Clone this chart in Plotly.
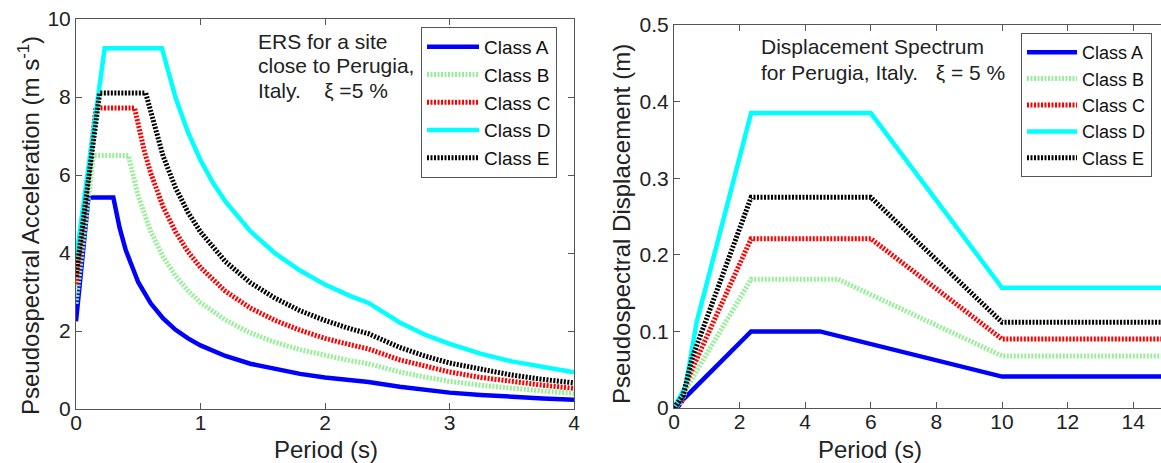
import plotly.graph_objects as go

W, H = 1161, 463

# ---------------- Data: acceleration spectra (left) ----------------
classes = ["Class A", "Class B", "Class C", "Class D", "Class E"]

acc_T_A = [0, 0.10, 0.30, 0.35, 0.4, 0.5, 0.6, 0.7, 0.8, 0.9, 1.0, 1.2, 1.4, 1.6, 1.8, 2.0, 2.2, 2.35, 2.6, 2.8, 3.0, 3.25, 3.5, 3.75, 4.0]
acc_A = [2.25, 5.42, 5.42, 4.65, 4.07, 3.25, 2.71, 2.32, 2.03, 1.81, 1.63, 1.36, 1.16, 1.02, 0.90, 0.81, 0.74, 0.69, 0.57, 0.49, 0.42, 0.36, 0.31, 0.27, 0.24]

acc_T_B = [0, 0.14, 0.42, 0.5, 0.6, 0.7, 0.8, 0.9, 1.0, 1.2, 1.4, 1.6, 1.8, 2.0, 2.2, 2.35, 2.6, 2.8, 3.0, 3.25, 3.5, 3.75, 4.0]
acc_B = [2.7, 6.5, 6.5, 5.46, 4.55, 3.90, 3.41, 3.03, 2.73, 2.28, 1.95, 1.71, 1.52, 1.37, 1.24, 1.16, 0.95, 0.82, 0.71, 0.61, 0.52, 0.46, 0.40]

acc_T_C = [0, 0.16, 0.47, 0.55, 0.6, 0.7, 0.8, 0.9, 1.0, 1.2, 1.4, 1.6, 1.8, 2.0, 2.2, 2.35, 2.6, 2.8, 3.0, 3.25, 3.5, 3.75, 4.0]
acc_C = [3.2, 7.72, 7.72, 6.60, 6.05, 5.18, 4.54, 4.03, 3.63, 3.02, 2.59, 2.27, 2.02, 1.81, 1.65, 1.54, 1.26, 1.09, 0.95, 0.81, 0.70, 0.61, 0.53]

acc_T_D = [0, 0.23, 0.69, 0.8, 0.9, 1.0, 1.1, 1.2, 1.4, 1.6, 1.8, 2.0, 2.2, 2.35, 2.6, 2.8, 3.0, 3.25, 3.5, 3.75, 4.0]
acc_D = [3.85, 9.25, 9.25, 7.98, 7.09, 6.38, 5.80, 5.32, 4.56, 3.99, 3.55, 3.19, 2.90, 2.72, 2.22, 1.91, 1.67, 1.42, 1.22, 1.07, 0.94]

acc_T_E = [0, 0.19, 0.56, 0.65, 0.7, 0.8, 0.9, 1.0, 1.2, 1.4, 1.6, 1.8, 2.0, 2.2, 2.35, 2.6, 2.8, 3.0, 3.25, 3.5, 3.75, 4.0]
acc_E = [3.4, 8.1, 8.1, 6.98, 6.48, 5.67, 5.04, 4.54, 3.78, 3.24, 2.84, 2.52, 2.27, 2.06, 1.93, 1.58, 1.36, 1.18, 1.01, 0.87, 0.76, 0.67]

# ---------------- Data: displacement spectra (right) ----------------
dis_T_A = [0, 0.15, 0.30, 2.35, 4.45, 10.0, 15.0]
dis_A = [0, 0.003, 0.012, 0.100, 0.100, 0.041, 0.041]

dis_T_B = [0, 0.21, 0.42, 2.35, 5.0, 10.0, 15.0]
dis_B = [0, 0.007, 0.029, 0.168, 0.168, 0.068, 0.068]

dis_T_C = [0, 0.24, 0.47, 2.35, 6.0, 10.0, 15.0]
dis_C = [0, 0.011, 0.043, 0.221, 0.221, 0.090, 0.090]

dis_T_D = [0, 0.35, 0.69, 2.35, 6.0, 10.0, 15.0]
dis_D = [0, 0.028, 0.112, 0.385, 0.385, 0.157, 0.157]

dis_T_E = [0, 0.28, 0.56, 2.35, 6.0, 10.0, 15.0]
dis_E = [0, 0.017, 0.066, 0.275, 0.275, 0.112, 0.112]

# ---------------- Styles ----------------
colors = ["#0000ff", "#99ee99", "#ff0000", "#00ffff", "#000000"]
dashes = ["solid", "2px,1.5px", "2px,1.5px", "solid", "2px,1.5px"]
widths = [4.5, 5, 5, 4.5, 5]

FONT = "Liberation Sans, Arial, sans-serif"

acc_T = [acc_T_A, acc_T_B, acc_T_C, acc_T_D, acc_T_E]
acc_V = [acc_A, acc_B, acc_C, acc_D, acc_E]
dis_T = [dis_T_A, dis_T_B, dis_T_C, dis_T_D, dis_T_E]
dis_V = [dis_A, dis_B, dis_C, dis_D, dis_E]

fig = go.Figure()
for i, name in enumerate(classes):
    fig.add_trace(go.Scatter(x=acc_T[i], y=acc_V[i], mode="lines", name=name,
                             line=dict(color=colors[i], width=widths[i], dash=dashes[i]),
                             xaxis="x", yaxis="y", legend="legend"))
for i, name in enumerate(classes):
    fig.add_trace(go.Scatter(x=dis_T[i], y=dis_V[i], mode="lines", name=name,
                             line=dict(color=colors[i], width=widths[i], dash=dashes[i]),
                             xaxis="x2", yaxis="y2", legend="legend2"))

def px_x(p):
    return p / W

def px_y(p):
    return 1 - p / H

axis_common = dict(showline=True, linecolor="#555", linewidth=1, ticks="inside",
                   ticklen=6, tickcolor="#555", showgrid=False, zeroline=False,
                   automargin=False,
                   tickfont=dict(family=FONT, size=21, color="#222"))

fig.update_layout(
    width=W, height=H, margin=dict(l=0, r=0, t=0, b=0, autoexpand=False),
    paper_bgcolor="white", plot_bgcolor="white",
    font=dict(family=FONT, color="#222"),
    xaxis=dict(domain=[px_x(76), px_x(574)], range=[0, 4], dtick=1, mirror="ticks",
               anchor="y", ticklabelstandoff=-5, **axis_common),
    yaxis=dict(domain=[px_y(409), px_y(19)], range=[0, 10], dtick=2, mirror="ticks",
               anchor="x", **axis_common),
    xaxis2=dict(domain=[px_x(674), 1.0], range=[0, (W - 674) / 32.8], dtick=2, mirror="ticks",
                anchor="y2", ticklabelstandoff=-5, **axis_common),
    yaxis2=dict(domain=[px_y(408), px_y(25)], range=[0, 0.5], dtick=0.1, mirror=False,
                anchor="x2", **axis_common),
    legend=dict(x=px_x(421), y=px_y(27), xanchor="left", yanchor="top",
                bgcolor="white", bordercolor="#555", borderwidth=1,
                font=dict(family=FONT, size=19, color="#111"), itemwidth=52,
                tracegroupgap=0),
    legend2=dict(x=px_x(1021), y=px_y(33), xanchor="left", yanchor="top",
                 bgcolor="white", bordercolor="#555", borderwidth=1,
                 font=dict(family=FONT, size=18, color="#111"), itemwidth=50,
                 tracegroupgap=0),
    showlegend=True,
)

NB = "\u00a0"
annots = [
    # axis titles
    dict(text="Pseudospectral Acceleration (m s<sup>-1</sup>)", x=px_x(29), y=px_y(226),
         textangle=-90, size=24),
    dict(text="Pseudospectral Displacement (m)", x=px_x(622), y=px_y(224),
         textangle=-90, size=24),
    dict(text="Period (s)", x=px_x(326), y=px_y(449), textangle=0, size=24),
    dict(text="Period (s)", x=px_x(870), y=px_y(449), textangle=0, size=24),
]
for a in annots:
    fig.add_annotation(xref="paper", yref="paper", x=a["x"], y=a["y"], text=a["text"],
                       textangle=a["textangle"], showarrow=False, xanchor="center",
                       yanchor="middle", font=dict(family=FONT, size=a["size"], color="#222"))

text_lines = [
    ("ERS for a site", 256, 42),
    ("close to Perugia,", 256, 66),
    ("Italy." + NB * 4 + "ξ =5 %", 256, 90),
    ("Displacement Spectrum", 759, 46),
    ("for Perugia, Italy." + NB * 3 + "ξ = 5 %", 759, 72),
]
for t, x, y in text_lines:
    fig.add_annotation(xref="paper", yref="paper", x=px_x(x), y=px_y(y), text=t,
                       showarrow=False, xanchor="left", yanchor="middle",
                       font=dict(family=FONT, size=21, color="#222"))

fig.write_html("out.html")
